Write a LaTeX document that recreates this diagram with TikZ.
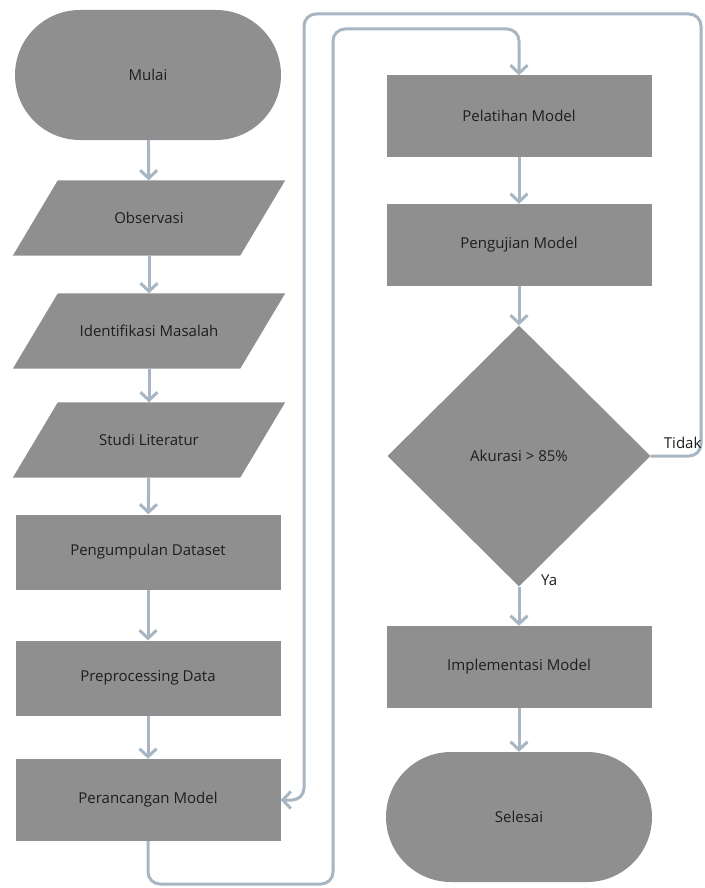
\documentclass[tikz,border=0pt]{standalone}
\usepackage{fontspec}
\setmainfont{Open Sans}
\usetikzlibrary{arrows.meta,positioning,shapes.geometric,shapes.misc,backgrounds}
\definecolor{boxgray}{HTML}{8F8F8F}
\definecolor{linegray}{HTML}{A7B6C2}
\definecolor{txtgray}{HTML}{1E1E1E}
\tikzset{
base/.style = {fill=boxgray, text=txtgray, inner sep=0pt,
               font=\fontsize{15}{18}\selectfont},
startstop/.style = {base, rounded rectangle, minimum width=266pt, minimum height=130pt},
inout/.style = {base, fill=none, rectangle, minimum width=227pt, minimum height=75pt},
process/.style = {base, rectangle, minimum width=265pt, minimum height=#1},
process/.default = 80pt,
decision/.style = {base, diamond, minimum width=263pt, minimum height=261pt},
flow/.style = {draw=linegray, line width=3pt, rounded corners=12pt,
               -{Straight Barb[length=8pt,width=17pt]}},
lbl/.style = {text=txtgray, inner sep=0pt, font=\fontsize{15}{18}\selectfont}
}
\begin{document}
\begin{tikzpicture}[x=1pt,y=-1pt]
  \useasboundingbox (0,0) rectangle (704,888);
  % left column
  \node[startstop] (mulai) at (148,75) {Mulai};
  \node[inout] (obs) at (149,218) {Observasi};
  \node[inout] (iden) at (149,331) {Identifikasi Masalah};
  \node[inout] (studi) at (149,440) {Studi Literatur};
  \node[process=75pt] (kumpul) at (148,552) {Pengumpulan Dataset};
  \node[process=75pt] (prep) at (148,678) {Preprocessing Data};
  \node[process=82pt] (rancang) at (148,800) {Perancangan Model};
  % right column
  \node[process=81pt] (latih) at (519,116) {Pelatihan Model};
  \node[process=82pt] (uji) at (519,245) {Pengujian Model};
  \node[decision] (akurasi) at (519,456) {Akurasi > 85\%};
  \node[process=82pt] (impl) at (519,667) {Implementasi Model};
  \node[startstop] (selesai) at (519,817) {Selesai};

  % parallelograms behind the input nodes
  \begin{scope}[on background layer]
    \foreach \n in {obs,iden,studi}
      \fill[boxgray] ([xshift=22.5pt]\n.north west) -- ([xshift=22.5pt]\n.north east)
        -- ([xshift=-22.5pt]\n.south east) -- ([xshift=-22.5pt]\n.south west) -- cycle;
  \end{scope}

  \draw[flow] (mulai) -- (obs);
  \draw[flow] (obs) -- (iden);
  \draw[flow] (iden) -- (studi);
  \draw[flow] (studi) -- (kumpul);
  \draw[flow] (kumpul) -- (prep);
  \draw[flow] (prep) -- (rancang);
  \draw[flow] (latih) -- (uji);
  \draw[flow] (uji) -- (akurasi);
  \draw[flow] (akurasi) -- (impl);
  \draw[flow] (impl) -- (selesai);

  % loop to the right column
  \coordinate (c1) at (333,884);
  \coordinate (c2) at (333,29);
  \draw[flow] (rancang.south) |- (c1) -- (c2) -| (latih.north);

  % back loop (Tidak)
  \coordinate (t1) at (701,14);
  \coordinate (t2) at (304,14);
  \draw[flow] (akurasi.east) -| (t1) -- (t2) |- (rancang.east);

  \node[lbl, anchor=base west] (tidak) at ([xshift=13pt,yshift=8pt]akurasi.east) {Tidak};
  \node[lbl, anchor=base west] (ya) at ([xshift=22pt,yshift=1pt]akurasi.south) {Ya};
\end{tikzpicture}
\end{document}
